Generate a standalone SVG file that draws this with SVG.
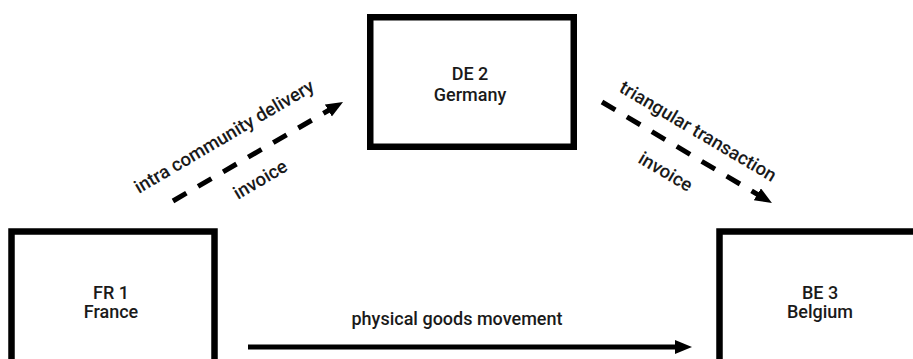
<svg xmlns="http://www.w3.org/2000/svg" width="913" height="359" viewBox="0 0 913 359">
<style>
.box{fill:#fff;stroke:#000;stroke-width:6.5}
.t{font-family:Roboto,"Liberation Sans",sans-serif;font-weight:500;font-size:18px;fill:#1a1a1a}
.r{font-size:18.6px}
.c{text-anchor:middle}
.dash{stroke:#000;stroke-width:5;fill:none;stroke-dasharray:15.5 13.5}
.solid{stroke:#000;stroke-width:5;fill:none}
</style>
<defs>
<marker id="ah" markerUnits="userSpaceOnUse" markerWidth="20" markerHeight="16" refX="4" refY="7" orient="auto">
<path d="M0,0 L17,7 L0,14 z" fill="#000"/>
</marker>
</defs>
<rect width="913" height="359" fill="#fff"/>
<g id="node-fr">
<rect class="box" x="11.5" y="231.5" width="203" height="200"/>
<text class="t c" x="111" y="299">FR 1</text>
<text class="t c" x="111" y="318">France</text>
</g>
<g id="node-de">
<rect class="box" x="370.25" y="17.25" width="203.5" height="129.5"/>
<text class="t c" x="470" y="80">DE 2</text>
<text class="t c" x="470" y="101">Germany</text>
</g>
<g id="node-be">
<rect class="box" x="719.5" y="231.5" width="210" height="200"/>
<text class="t c" x="820" y="299">BE 3</text>
<text class="t c" x="820" y="318">Belgium</text>
</g>
<g id="connectors">
<line class="dash" x1="173" y1="201" x2="331.8" y2="108.5" marker-end="url(#ah)"/>
<line class="dash" x1="602" y1="102" x2="760.8" y2="196.4" marker-end="url(#ah)"/>
<line class="solid" x1="248" y1="347" x2="679" y2="347" marker-end="url(#ah)"/>
<text class="t r" x="139" y="194" transform="rotate(-30.5 139 194)">intra community delivery</text>
<text class="t r" x="238" y="200" transform="rotate(-30.5 238 200)">invoice</text>
<text class="t r" x="618" y="91" transform="rotate(30.7 618 91)">triangular transaction</text>
<text class="t r" x="637" y="162" transform="rotate(30.7 637 162)">invoice</text>
<text class="t c" x="457" y="325">physical goods movement</text>
</g>
</svg>
